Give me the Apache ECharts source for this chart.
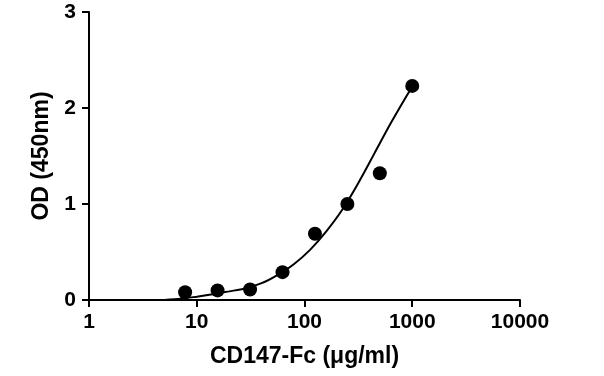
<!DOCTYPE html>
<html><head><meta charset="utf-8">
<script src="https://cdn.jsdelivr.net/npm/echarts@6/dist/echarts.min.js"></script>
<style>html,body{margin:0;padding:0;background:#fff}#c{width:604px;height:376px}</style>
</head><body><div id="c"></div>
<script>
// measured points
var concentrations = [7.8, 15.6, 31.25, 62.5, 125, 250, 500, 1000];
var odValues = [0.08, 0.10, 0.11, 0.29, 0.69, 1.00, 1.32, 2.23];
// fitted curve
var curveX = [5, 7.1, 10, 14, 20, 28, 40, 56, 79, 112, 158, 224, 316, 447, 631, 891, 1000];
var curveY = [0.0, 0.012, 0.035, 0.06, 0.09, 0.12, 0.175, 0.26, 0.37, 0.52, 0.71, 0.94, 1.22, 1.53, 1.84, 2.13, 2.22];
var xTicks = [1, 10, 100, 1000, 10000];
var yTicks = [0, 1, 2, 3];

var font = 'Liberation Sans, Arial, sans-serif';
var chart = echarts.init(document.getElementById('c'));
chart.setOption({
  animation: false,
  grid: {left: 89, right: 84, top: 12, bottom: 76},
  xAxis: {
    type: 'log', logBase: 10, min: xTicks[0], max: xTicks[xTicks.length-1],
    name: 'CD147-Fc (\u03bcg/ml)', nameLocation: 'middle', nameGap: 45,
    nameTextStyle: {fontFamily: font, fontWeight: 'bold', fontSize: 23, color: '#000'},
    axisLine: {show: true, lineStyle: {color: '#000', width: 2}},
    axisTick: {show: true, length: 7, lineStyle: {color: '#000', width: 2}},
    minorTick: {show: false},
    splitLine: {show: false},
    axisLabel: {fontFamily: font, fontWeight: 'bold', fontSize: 21, color: '#000', margin: 12,
      formatter: function(v){ return String(Math.round(v)); }}
  },
  yAxis: {
    type: 'value', min: yTicks[0], max: yTicks[yTicks.length-1], interval: 1,
    name: 'OD (450nm)', nameLocation: 'middle', nameGap: 32, nameRotate: 90,
    nameTextStyle: {fontFamily: font, fontWeight: 'bold', fontSize: 23, color: '#000'},
    axisLine: {show: true, lineStyle: {color: '#000', width: 2}},
    axisTick: {show: true, length: 7, lineStyle: {color: '#000', width: 2}},
    splitLine: {show: false},
    axisLabel: {fontFamily: font, fontWeight: 'bold', fontSize: 21, color: '#000', margin: 13}
  },
  series: [
    {type: 'line', data: curveX.map(function(x, i){return [x, curveY[i]];}),
     smooth: 0.3, showSymbol: false, lineStyle: {color: '#000', width: 2}, z: 2},
    {type: 'scatter', data: concentrations.map(function(x, i){return [x, odValues[i]];}),
     symbolSize: 14, itemStyle: {color: '#000', opacity: 1}, z: 3}
  ]
});
</script></body></html>
